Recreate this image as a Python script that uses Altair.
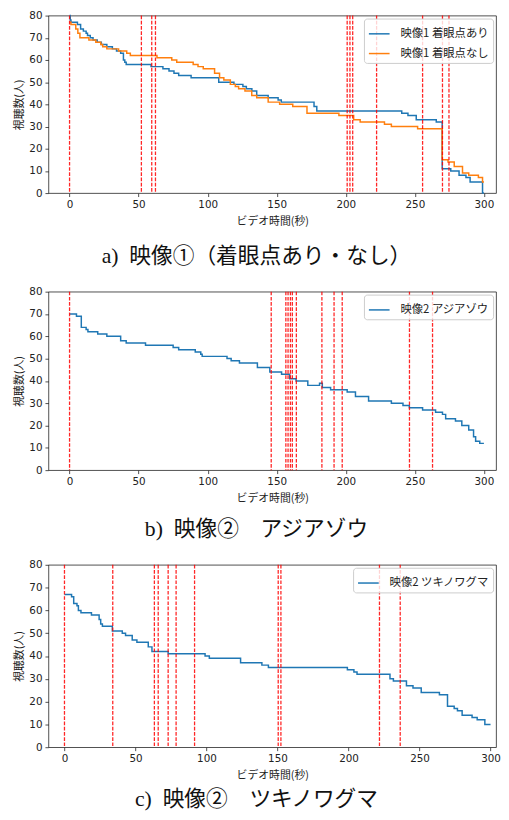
import altair as alt
import pandas as pd

# ---------------- data ----------------
ticks_x = [0, 50, 100, 150, 200, 250, 300]
ticks_y = [0, 10, 20, 30, 40, 50, 60, 70, 80]

# panel a: 映像1
a_ari_t = [0, 0.5, 1, 5.7, 8, 10, 12, 13, 15, 17, 20, 23, 27, 31, 34, 37, 39, 40, 41, 59, 67.6, 72, 75.6,
           79, 88, 108, 119, 125.5, 128, 132, 135.5, 143.8, 151, 153.3, 177, 179, 240.5, 245, 251, 265.5,
           269.8, 276, 282, 287, 290, 299, 300]
a_ari_v = [80, 78, 77, 76, 74, 73, 72, 71, 70, 69, 68, 67, 66, 65, 64, 63, 60, 59, 58, 57, 56, 55, 54,
           53, 52, 50, 49, 48, 47, 46, 44, 43, 42, 41, 39, 37, 36, 35, 33, 32,
           11, 10, 8, 7, 5, 0, 0]
a_nashi_t = [0, 1, 4.5, 6, 7.5, 14, 19, 22.6, 24, 27, 35.5, 41.4, 44, 63.3, 74, 77.6, 89.5, 93, 96.8,
             105, 108.6, 111.7, 116.4, 120, 122.4, 127, 131.9, 135.5, 143.8, 152.1, 161.6, 171.9, 195,
             205.7, 210.4, 228, 233, 252, 269.8, 274, 278.5, 284.5, 289, 296, 299, 300]
a_nashi_v = [77, 76, 74, 72, 70, 69, 68, 67, 66, 65, 64, 63, 62, 61, 60, 59, 58, 57, 56,
             54, 52, 51, 49, 48, 47, 46, 44, 43, 41, 40, 39, 36, 35,
             33, 32, 31, 30, 29, 15, 14, 12, 9, 8, 7, 5, 5]
a_marks = [0, 52, 59.5, 62.2, 201, 203, 205, 222.3, 255.6, 270, 274.7]

# panel b: 映像2 アジアゾウ
b_t = [0, 5, 8.5, 12, 13.3, 20.4, 27, 37, 41, 55, 75, 79, 91, 95, 96, 114, 117, 123, 136, 145, 153.5,
       159.4, 164, 172.5, 181, 183, 189, 201, 207, 216.5, 233, 241.4, 246, 255.6, 265, 270, 272.3,
       279.4, 284, 289, 292.5, 294, 297, 300]
b_v = [70, 69, 64, 63, 62, 61, 60, 58, 57, 56, 55, 54, 53, 52, 51, 50, 49, 48, 46, 44, 43,
       41, 40, 38, 39, 37, 36, 35, 33, 31, 30, 29, 28, 27, 26, 25, 23,
       22, 20, 18, 15, 13, 12, 12]
b_marks = [0, 146, 156.6, 158.2, 159.9, 161.3, 164.2, 182.7, 191.5, 197.4, 246.1, 262.8]

# panel c: 映像2 ツキノワグマ
c_t = [0, 5, 6.5, 8.8, 9.8, 11.6, 19, 24.4, 25.5, 26.7, 33.7, 40.7, 43, 47.7, 51, 59, 61.6, 73, 99,
       102, 124, 139, 143.6, 199.2, 203.8, 206, 229.2, 231.6, 240.8, 245.4, 251.2, 264, 269.7,
       274.4, 276.7, 280, 287, 290.6, 296, 300]
c_v = [67, 66, 63, 62, 60, 59, 58, 56, 54, 53, 51, 50, 49, 47, 46, 44, 42, 41, 40,
       39, 37, 36, 35, 34, 33, 32, 30, 29, 27, 26, 24, 23, 18,
       17, 16, 14, 13, 12, 10, 10]
c_marks = [0, 34, 63.3, 66, 73, 78.6, 91.6, 150.5, 152.4, 221.8, 236.4]

names_a = ["映像1 着眼点あり", "映像1 着眼点なし"]
name_b = "映像2 アジアゾウ"
name_c = "映像2 ツキノワグマ"
captions = ["a)\u2002映像①（着眼点あり・なし）", "b)\u2002映像②\u3000アジアゾウ", "c)\u2002映像②\u3000ツキノワグマ"]

BLUE = "#1f77b4"
ORANGE = "#ff7f0e"
CJK = "Noto Sans CJK JP"


def panel(series, marks, xdom, width, height, caption, cap_offset):
    frames = []
    names, colors = [], []
    for name, t, v, col in series:
        frames.append(pd.DataFrame({"t": t, "v": v, "series": name}))
        names.append(name)
        colors.append(col)
    df = pd.concat(frames, ignore_index=True)
    line = alt.Chart(df).mark_line(interpolate="step-after", strokeWidth=1.5).encode(
        x=alt.X("t:Q", scale=alt.Scale(domain=xdom, nice=False, zero=False),
                axis=alt.Axis(values=ticks_x, title="ビデオ時間(秒)")),
        y=alt.Y("v:Q", scale=alt.Scale(domain=[0, 80], nice=False),
                axis=alt.Axis(values=ticks_y, title="視聴数(人)")),
        color=alt.Color("series:N", sort=names,
                        scale=alt.Scale(domain=names, range=colors),
                        legend=alt.Legend(title=None, orient="top-right", offset=3,
                                          symbolType="stroke", symbolSize=440,
                                          symbolStrokeWidth=1.5, labelFont=CJK,
                                          labelFontSize=11.5, labelColor="#222",
                                          padding=4, rowPadding=3, labelOffset=10,
                                          strokeColor="#cccccc", cornerRadius=3,
                                          fillColor="rgba(255,255,255,0.8)")),
        detail="series:N",
    )
    rules = alt.Chart(pd.DataFrame({"m": marks})).mark_rule(
        color="#ff0000", strokeDash=[3.7, 1.6], strokeWidth=1.3, opacity=0.85
    ).encode(x=alt.X("m:Q", scale=alt.Scale(domain=xdom, nice=False, zero=False)))
    return alt.layer(line, rules).properties(
        width=width, height=height,
        title=alt.TitleParams(caption, orient="bottom", anchor="middle", dx=-16, offset=cap_offset,
                              fontSize=22, font="Liberation Serif, " + CJK,
                              fontWeight="normal", color="#111"),
    )


pa = panel([(names_a[0], a_ari_t, a_ari_v, BLUE), (names_a[1], a_nashi_t, a_nashi_v, ORANGE)],
           a_marks, [-15.3, 308.8], 454, 180, captions[0], 20.3)
pb = panel([(name_b, b_t, b_v, BLUE)], b_marks, [-15.3, 308.8], 454, 181, captions[1], 15.7)
pc = panel([(name_c, c_t, c_v, BLUE)], c_marks, [-11.3, 303.9], 454, 185, captions[2], 9)

chart = alt.vconcat(pa, pb, pc, spacing=18).resolve_scale(
    x="independent", y="independent", color="independent"
).resolve_legend(color="independent").properties(
    padding={"left": 5, "top": -4, "right": 0, "bottom": -6},
).configure_view(stroke="#222", strokeWidth=0.8).configure_axis(
    domain=False, grid=False, tickColor="#222", tickSize=3.5, tickWidth=0.8,
    labelFont="DejaVu Sans", labelFontSize=10.5, labelColor="#222", labelPadding=3,
    titleFont=CJK, titleFontSize=11, titleFontWeight="normal", titleColor="#222",
).configure_axisY(titlePadding=4).configure_axisX(titlePadding=6)

chart.save("out.html", embed_options={"renderer": "svg", "actions": False})
